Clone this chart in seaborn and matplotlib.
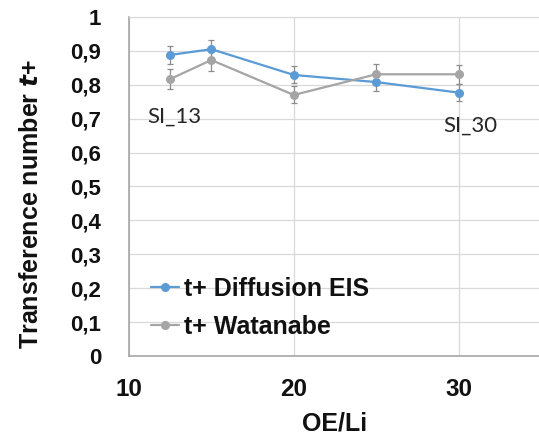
import numpy as np
import pandas as pd
import matplotlib
matplotlib.use("Agg")
import matplotlib.pyplot as plt
import seaborn as sns

# data
oe_li = [12.5, 15, 20, 25, 30]
t_diffusion = [0.888, 0.905, 0.829, 0.808, 0.777]
t_diffusion_err = [0.027, 0.028, 0.025, 0.026, 0.025]
t_watanabe = [0.817, 0.873, 0.770, 0.831, 0.831]
t_watanabe_err = [0.030, 0.031, 0.025, 0.030, 0.028]
series_names = ["t+ Diffusion EIS", "t+ Watanabe"]
series_colors = ["#5B9BD5", "#A5A5A5"]
y_ticks = [0, 0.1, 0.2, 0.3, 0.4, 0.5, 0.6, 0.7, 0.8, 0.9, 1.0]
y_ticklabels = ["0", "0,1", "0,2", "0,3", "0,4", "0,5", "0,6", "0,7", "0,8", "0,9", "1"]
x_ticks = [10, 20, 30]
labels_pts = [("SI_13", 12.75, 0.705), ("SI_30", 30.7, 0.678)]

df = pd.DataFrame({
    "OE/Li": oe_li * 2,
    "t": t_diffusion + t_watanabe,
    "err": t_diffusion_err + t_watanabe_err,
    "serie": [series_names[0]] * 5 + [series_names[1]] * 5,
})

sns.set_style("white")
plt.rcParams["font.family"] = ["Liberation Sans", "DejaVu Sans"]
plt.rcParams["text.color"] = "#111111"
plt.rcParams["axes.labelcolor"] = "#111111"
plt.rcParams["xtick.color"] = "#111111"
plt.rcParams["ytick.color"] = "#111111"

fig = plt.figure(figsize=(5.39, 4.41), dpi=100)
ax = fig.add_axes([0.2393, 0.1927, 0.7644, 0.7688])

sns.lineplot(data=df, x="OE/Li", y="t", hue="serie", palette=series_colors,
             marker="o", markersize=6.5, markeredgewidth=0, linewidth=1.6,
             ax=ax, zorder=3)

for name, col in zip(series_names, series_colors):
    sub = df[df["serie"] == name]
    ax.errorbar(sub["OE/Li"], sub["t"], yerr=sub["err"], fmt="none",
                ecolor="#8C8C8C", elinewidth=0.9, capsize=2.5, capthick=0.9, zorder=2)

for txt, x, y in labels_pts:
    ax.text(x, y, txt, ha="center", va="center", fontsize=16,
            family=["Lato", "DejaVu Sans"], color="#262626")

ax.set_xlim(10, 35)
ax.set_ylim(0, 1)
ax.set_xticks(x_ticks)
ax.set_yticks(y_ticks)
ax.set_yticklabels(y_ticklabels)
ax.tick_params(axis="y", length=0, labelsize=16, pad=20)
ax.tick_params(axis="x", length=0, labelsize=17.5, pad=15.5)
for lab in ax.get_xticklabels() + ax.get_yticklabels():
    lab.set_fontweight("bold")

ax.grid(True, color="#D9D9D9", linewidth=0.9)
for side in ["top", "right"]:
    ax.spines[side].set_color("#D9D9D9")
for side in ["left", "bottom"]:
    ax.spines[side].set_color("#A6A6A6")
    ax.spines[side].set_linewidth(1.2)

ax.set_xlabel("OE/Li", fontsize=18, fontweight="bold", labelpad=8)
ax.set_ylabel("Transference number $\\bfit{t}$+", fontsize=18, fontweight="bold")
ax.yaxis.set_label_coords(-0.209, 0.448)

leg = ax.legend(loc="lower left", bbox_to_anchor=(0.0, -0.015), frameon=False,
                prop={"weight": "bold", "size": 18}, handlelength=1.1,
                handletextpad=0.2, labelspacing=0.55, borderaxespad=0.5)

fig.savefig("out.png", dpi=100)
